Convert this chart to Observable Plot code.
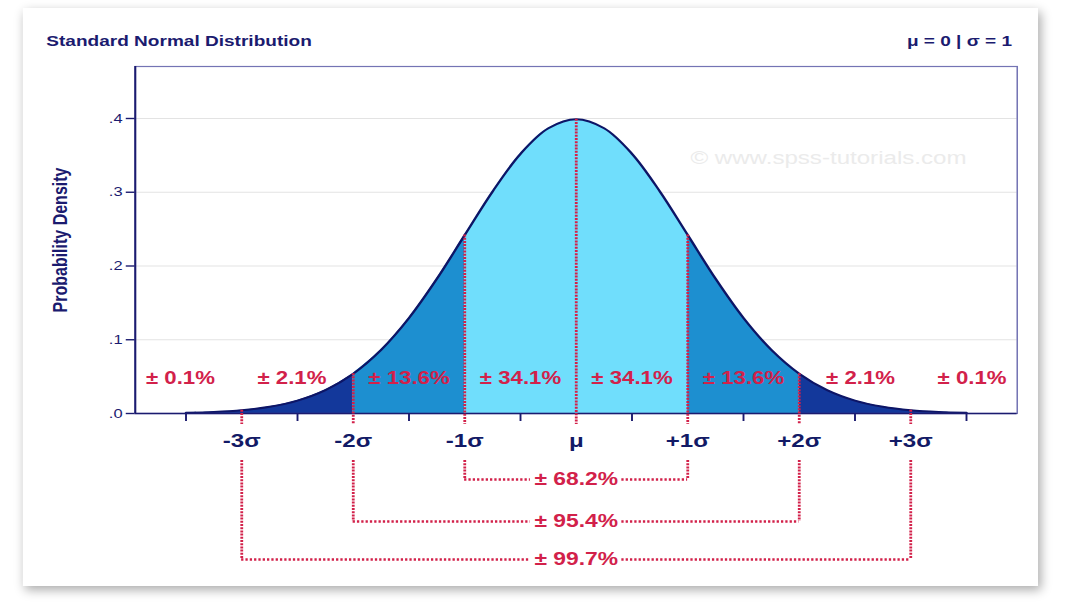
<!DOCTYPE html>
<html>
<head>
<meta charset="utf-8">
<script src="https://cdn.jsdelivr.net/npm/d3@7"></script>
<script src="https://cdn.jsdelivr.net/npm/@observablehq/plot@0.6"></script>
<style>
  html, body { margin: 0; padding: 0; background: #ffffff; overflow: hidden; }
  #stage { position: absolute; left: 0; top: 0; width: 840px; height: 609px;
           transform: scaleX(1.269); transform-origin: 0 0; }
  #card { position: absolute; left: 17.5px; top: 8px; width: 800px; height: 578px;
          background: #ffffff; box-shadow: 2px 4px 9px rgba(0,0,0,0.33); }
  .hdr { position: absolute; top: 24px; font: bold 15px "Liberation Sans", Arial, sans-serif;
         color: #1b1b6f; line-height: 18px; white-space: nowrap; }
  #title { left: 19px; }
  #params { right: 20px; }
  #ylab { position: absolute; left: 30px; top: 232px; transform: translate(-50%, -50%) rotate(-90deg);
          font: bold 16px "Liberation Sans", Arial, sans-serif; color: #1b1b6f; white-space: nowrap; }
  #chart { position: absolute; left: 0; top: 0; }
</style>
</head>
<body>
<div id="stage">
  <div id="card">
    <div id="chart"></div>
    <div class="hdr" id="title">Standard Normal Distribution</div>
    <div class="hdr" id="params">μ = 0 | σ = 1</div>
    <div id="ylab">Probability Density</div>
  </div>
</div>
<script>
// ---------- data ----------
const densityX = [-3.5,-3.25,-3,-2.75,-2.5,-2.25,-2,-1.75,-1.5,-1.25,-1,-0.75,-0.5,-0.25,0,
                  0.25,0.5,0.75,1,1.25,1.5,1.75,2,2.25,2.5,2.75,3,3.25,3.5];
const densityY = [0.0009,0.0020,0.0044,0.0091,0.0175,0.0317,0.0540,0.0863,0.1295,0.1826,0.2420,0.3011,0.3521,0.3867,0.3989,
                  0.3867,0.3521,0.3011,0.2420,0.1826,0.1295,0.0863,0.0540,0.0317,0.0175,0.0091,0.0044,0.0020,0.0009];
const bandEdges = [-3.5, -2, -1, 1, 2, 3.5];
const sigmaTicks = [-3, -2, -1, 0, 1, 2, 3];
const sigmaLabels = ["-3σ", "-2σ", "-1σ", "μ", "+1σ", "+2σ", "+3σ"];
const minorTicks = [-3.5, -2.5, -1.5, -0.5, 0.5, 1.5, 2.5, 3.5];
const pctLabels = ["± 0.1%", "± 2.1%", "± 13.6%", "± 34.1%", "± 34.1%", "± 13.6%", "± 2.1%", "± 0.1%"];
const pctX = [-3.55, -2.55, -1.5, -0.5, 0.5, 1.5, 2.55, 3.55];
const bracketSigma = [1, 2, 3];
const bracketLabels = ["± 68.2%", "± 95.4%", "± 99.7%"];
const yTicks = [0, 0.1, 0.2, 0.3, 0.4];
const yTickLabels = [".0", ".1", ".2", ".3", ".4"];
const watermark = "© www.spss-tutorials.com";

// ---------- styles / layout ----------
const NAVY = "#1b1b6f";
const CURVE = "#0d1566";
const RED = "#d2214a";
const bandColors = ["#13389b", "#1d8fd0", "#70defc", "#1d8fd0", "#13389b"];
const FONT = '"Liberation Sans", Arial, sans-serif';
const X_DOMAIN = [-3.955, 3.955];
const Y_DOMAIN = [0, 0.4705];
const RULE_BOTTOM = -0.0149;
const BRACKET_TOP = -0.0637;
const BRACKET_LEVELS = [-0.0895, -0.1464, -0.198];
const LABEL_GAP = 0.41;

const points = densityX.map((x, i) => ({x, y: densityY[i]}));
const densityAt = v => densityY[densityX.indexOf(v)];
const bandRows = bandEdges.slice(0, -1).flatMap((lo, i) =>
  points.filter(p => p.x >= lo && p.x <= bandEdges[i + 1])
        .map(p => ({x: p.x, y: p.y, base: 0, band: i, fill: bandColors[i]})));
const bracketRows = bracketSigma.map((s, i) => ({s, level: BRACKET_LEVELS[i], label: bracketLabels[i]}));
const bracketVert = bracketRows.flatMap(b => [{x: -b.s, y1: BRACKET_TOP, y2: b.level}, {x: b.s, y1: BRACKET_TOP, y2: b.level}]);
const bracketHorz = bracketRows.flatMap(b => [{x1: -b.s, x2: -LABEL_GAP, y: b.level}, {x1: LABEL_GAP, x2: b.s, y: b.level}]);

const chart = Plot.plot({
  width: 800,
  height: 578,
  marginLeft: 88.1,
  marginRight: 16.9,
  marginTop: 58,
  marginBottom: 173,
  style: {fontFamily: FONT, background: "transparent", overflow: "visible"},
  x: {domain: X_DOMAIN},
  y: {domain: Y_DOMAIN},
  color: {type: "identity"},
  marks: [
    Plot.ruleY(yTicks.filter(d => d > 0), {stroke: "#e3e3e3", strokeWidth: 1.2}),
    Plot.text([watermark], {x: 3.5, y: 0.347, text: d => d, textAnchor: "end", fontSize: 19, fill: "#ebebeb"}),
    Plot.area(bandRows, {x1: "x", y1: "base", y2: "y", z: "band", fill: "fill", curve: "catmull-rom"}),
    Plot.lineY(points, {x: "x", y: "y", stroke: CURVE, strokeWidth: 2, curve: "catmull-rom"}),
    Plot.frame({stroke: "#7474b4", strokeWidth: 1.2}),
    Plot.ruleX([X_DOMAIN[0]], {stroke: NAVY, strokeWidth: 1.6}),
    Plot.ruleY([0], {stroke: NAVY, strokeWidth: 1.6}),
    Plot.axisY({ticks: yTicks, tickFormat: (d, i) => yTickLabels[i], tickSize: 7, tickPadding: 3,
                fontSize: 13, color: NAVY, strokeWidth: 1.4, label: null}),
    Plot.axisX({ticks: minorTicks, tickFormat: () => "", tickSize: 8, color: NAVY, strokeWidth: 1.5, label: null}),
    Plot.ruleX(sigmaTicks, {x: d => d, y1: d => densityAt(d), y2: RULE_BOTTOM,
                            stroke: RED, strokeWidth: 2.2, strokeDasharray: "2,1.2"}),
    Plot.text(pctLabels, {x: (d, i) => pctX[i], y: 0.0475, text: d => d,
                          fontSize: 17.5, fontWeight: "bold", fill: RED}),
    Plot.text(sigmaLabels, {x: (d, i) => sigmaTicks[i], y: 0, dy: 27, text: d => d,
                            fontSize: 19, fontWeight: "bold", fill: "#121a66"}),
    Plot.ruleX(bracketVert, {x: "x", y1: "y1", y2: "y2", stroke: RED, strokeWidth: 2.2, strokeDasharray: "2,1.2"}),
    Plot.ruleY(bracketHorz, {x1: "x1", x2: "x2", y: "y", stroke: RED, strokeWidth: 2.6, strokeDasharray: "1.8,1.6"}),
    Plot.text(bracketRows, {x: 0, y: "level", text: "label", fontSize: 18, fontWeight: "bold", fill: RED})
  ]
});
document.getElementById("chart").appendChild(chart);
</script>
</body>
</html>
